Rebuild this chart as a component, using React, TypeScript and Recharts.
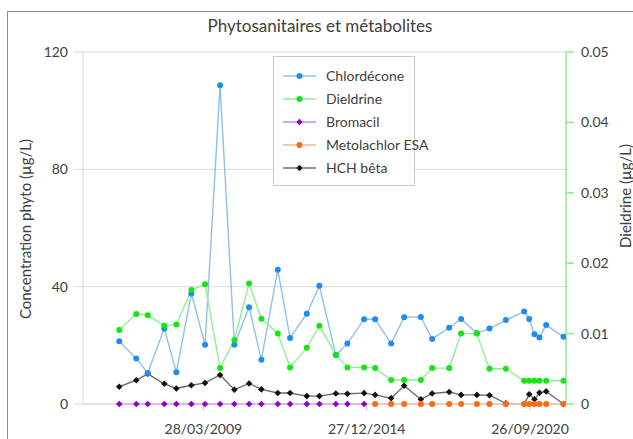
import React from "react";
import {
  ComposedChart,
  Line,
  XAxis,
  YAxis,
  CartesianGrid,
  Legend,
} from "recharts";

// Sampling dates (one entry per sample).
const DATES = [
  "2006-04-12", "2006-11-17", "2007-04-13", "2007-11-12", "2008-04-15",
  "2008-10-25", "2009-04-19", "2009-10-29", "2010-05-01", "2010-11-06",
  "2011-04-13", "2011-11-10", "2012-04-16", "2012-11-17", "2013-04-28",
  "2013-11-25", "2014-04-23", "2014-11-24", "2015-04-14", "2015-11-06",
  "2016-04-21", "2016-11-22", "2017-04-16", "2017-11-21", "2018-04-24",
  "2018-11-12", "2019-04-23", "2019-11-20", "2020-07-12", "2020-09-15",
  "2020-11-22", "2021-01-25", "2021-04-21", "2021-11-30",
];

// µg/L, left axis
const CHLORDECONE = [
  21.4, 15.5, 10.6, 25.7, 10.8, 37.7, 20.2, 108.7, 20.2, 33.0, 15.1, 45.8,
  22.5, 30.8, 40.3, 16.7, 20.6, 28.9, 28.9, 20.6, 29.6, 29.7, 22.2, 26.0,
  29.0, 24.1, 25.7, 28.6, 31.5, 29.0, 23.8, 22.7, 26.9, 22.9,
];

// µg/L, right axis
const DIELDRINE = [
  0.0105, 0.0128, 0.0126, 0.0111, 0.0113, 0.0162, 0.017, 0.0051, 0.0091,
  0.0171, 0.0121, 0.01, 0.0052, 0.008, 0.0111, 0.007, 0.0052, 0.0052,
  0.0051, 0.0034, 0.0034, 0.0034, 0.0051, 0.0051, 0.01, 0.01, 0.005, 0.005,
  0.0033, 0.0033, 0.0033, 0.0033, 0.0033, 0.0033,
];

const BROMACIL = [
  0, 0, 0, 0, 0, 0, 0, 0, 0, 0, 0, 0, 0, 0, 0, 0, 0, 0,
  null, null, null, null, null, null, null, null, null, null, null, null,
  null, null, null, null,
];

const METOLACHLOR_ESA = [
  null, null, null, null, null, null, null, null, null, null, null, null,
  null, null, null, null, null, null,
  0, 0, 0, 0, 0, 0, 0, 0, 0, 0, 0, 0, 0, 0, 0, 0,
];

const HCH_BETA = [
  5.9, 8.1, 10.3, 6.9, 5.3, 6.4, 7.2, 9.9, 4.9, 7.0, 5.0, 3.75, 3.75, 2.7,
  2.7, 3.6, 3.5, 3.7, 3.1, 2.0, 6.2, 1.6, 3.6, 4.1, 3.1, 3.1, 3.0, 0.2, 0,
  3.3, 1.6, 3.8, 4.3, 0,
];

const X_DOMAIN = ["2005-01-01", "2022-01-01"];
const X_TICKS = ["2009-03-28", "2014-12-27", "2020-09-26"];
const LEFT_TICKS = [0, 40, 80, 120];
const RIGHT_TICKS = [0, 0.01, 0.02, 0.03, 0.04, 0.05];

const FONT = "Lato, 'Open Sans', sans-serif";
const TEXT = "#404040";
const GRID = "#d9d9d9";
const GREEN_AXIS = "#8fe88f";

type Serie = {
  key: string;
  name: string;
  line: string;
  marker: string;
  axis: "left" | "right";
  shape: "circle" | "diamond";
};

const SERIES: Serie[] = [
  { key: "chlordecone", name: "Chlordécone", line: "#8fc0ec", marker: "#1e8cf5", axis: "left", shape: "circle" },
  { key: "dieldrine", name: "Dieldrine", line: "#8ef08e", marker: "#14e614", axis: "right", shape: "circle" },
  { key: "bromacil", name: "Bromacil", line: "#c987e6", marker: "#9200c8", axis: "left", shape: "diamond" },
  { key: "metolachlor", name: "Metolachlor ESA", line: "#f8b48a", marker: "#ff6a10", axis: "left", shape: "circle" },
  { key: "hch", name: "HCH bêta", line: "#6e6e6e", marker: "#111111", axis: "left", shape: "diamond" },
];

// Drawn bottom to top
const DRAW_ORDER = ["hch", "chlordecone", "bromacil", "metolachlor", "dieldrine"];

const toTime = (iso: string) => {
  const [y, m, d] = iso.split("-").map(Number);
  return Date.UTC(y, m - 1, d);
};

const fmtDate = (t: number) => {
  const d = new Date(t);
  const p = (n: number) => String(n).padStart(2, "0");
  return `${p(d.getUTCDate())}/${p(d.getUTCMonth() + 1)}/${d.getUTCFullYear()}`;
};

const data = DATES.map((iso, i) => ({
  t: toTime(iso),
  chlordecone: CHLORDECONE[i],
  dieldrine: DIELDRINE[i],
  bromacil: BROMACIL[i],
  metolachlor: METOLACHLOR_ESA[i],
  hch: HCH_BETA[i],
}));

function makeDot(s: Serie) {
  return (props: any) => {
    const { cx, cy, key } = props;
    if (cx == null || cy == null || Number.isNaN(cy)) return <g key={key} />;
    if (s.shape === "diamond") {
      const r = 3.3;
      return (
        <path
          key={key}
          d={`M${cx},${cy - r}L${cx + r},${cy}L${cx},${cy + r}L${cx - r},${cy}Z`}
          fill={s.marker}
        />
      );
    }
    return <circle key={key} cx={cx} cy={cy} r={3} fill={s.marker} />;
  };
}

function LegendBox() {
  return (
    <div
      style={{
        border: "1px solid #c8c8c8",
        background: "#fff",
        padding: "7px 0 6px 0",
        fontFamily: FONT,
        fontSize: 14,
        color: TEXT,
      }}
    >
      {SERIES.map((s) => (
        <div key={s.key} style={{ display: "flex", alignItems: "center", height: 23 }}>
          <svg width={52} height={10} style={{ flex: "none" }}>
            <line x1={9} x2={42} y1={5} y2={5} stroke={s.line} strokeWidth={1.5} />
            {s.shape === "diamond" ? (
              <path d="M25.5,1.8L28.7,5L25.5,8.2L22.3,5Z" fill={s.marker} />
            ) : (
              <circle cx={25.5} cy={5} r={3} fill={s.marker} />
            )}
          </svg>
          <span style={{ whiteSpace: "nowrap" }}>{s.name}</span>
        </div>
      ))}
    </div>
  );
}

export default function App() {
  const tick = { fill: TEXT, fontSize: 14, fontFamily: FONT };
  return (
    <div
      style={{
        position: "fixed",
        left: 0,
        top: 0,
        width: 633,
        height: 439,
        overflow: "hidden",
        background: "#fff",
        fontFamily: FONT,
      }}
    >
      <div
        style={{
          position: "absolute",
          left: 7,
          top: 11,
          width: 700,
          height: 500,
          border: "1px solid #8c8c8c",
        }}
      />
      <div
        style={{
          position: "absolute",
          left: 0,
          width: 640,
          top: 15,
          textAlign: "center",
          fontSize: 17,
          color: TEXT,
        }}
      >
        Phytosanitaires et métabolites
      </div>
      <div
        style={{
          position: "absolute",
          left: 25,
          top: 229,
          transform: "translate(-50%, -50%) rotate(-90deg)",
          whiteSpace: "nowrap",
          fontSize: 15,
          color: TEXT,
        }}
      >
        Concentration phyto (µg/L)
      </div>
      <div
        style={{
          position: "absolute",
          left: 625,
          top: 196,
          transform: "translate(-50%, -50%) rotate(-90deg)",
          whiteSpace: "nowrap",
          fontSize: 15,
          color: TEXT,
        }}
      >
        Dieldrine (µg/L)
      </div>
      <div style={{ position: "absolute", left: 0, top: 0 }}>
        <ComposedChart
          width={633}
          height={439}
          data={data}
          margin={{ top: 52, right: 17, left: 23, bottom: 0 }}
        >
          <CartesianGrid
            yAxisId="left"
            stroke={GRID}
            vertical={false}
            horizontalValues={LEFT_TICKS}
          />
          <XAxis
            dataKey="t"
            type="number"
            scale="linear"
            domain={X_DOMAIN.map(toTime)}
            ticks={X_TICKS.map(toTime)}
            tickFormatter={fmtDate}
            allowDataOverflow
            height={35}
            tick={tick}
            stroke={GRID}
            tickLine={{ stroke: "#bfbfbf" }}
            tickSize={6}
            tickMargin={14}
          />
          <YAxis
            yAxisId="left"
            orientation="left"
            width={60}
            domain={[0, 120]}
            ticks={LEFT_TICKS}
            tick={tick}
            stroke={GRID}
            tickSize={9}
            tickMargin={6}
          />
          <YAxis
            yAxisId="right"
            orientation="right"
            width={50}
            domain={[0, 0.05]}
            ticks={RIGHT_TICKS}
            tick={tick}
            axisLine={{ stroke: GREEN_AXIS, strokeWidth: 1.5 }}
            tickLine={{ stroke: GREEN_AXIS, strokeWidth: 1.5 }}
            tickSize={8}
            tickMargin={7}
          />
          <Legend
            layout="vertical"
            align="center"
            verticalAlign="middle"
            content={() => <LegendBox />}
            wrapperStyle={{ position: "absolute", left: 273, top: 56, width: 142 }}
          />
          {DRAW_ORDER.map((k) => {
            const s = SERIES.find((x) => x.key === k)!;
            return (
              <Line
                key={s.key}
                yAxisId={s.axis}
                dataKey={s.key}
                name={s.name}
                stroke={s.line}
                strokeWidth={1.4}
                dot={makeDot(s)}
                activeDot={false}
                isAnimationActive={false}
                connectNulls={false}
              />
            );
          })}
        </ComposedChart>
      </div>
    </div>
  );
}
